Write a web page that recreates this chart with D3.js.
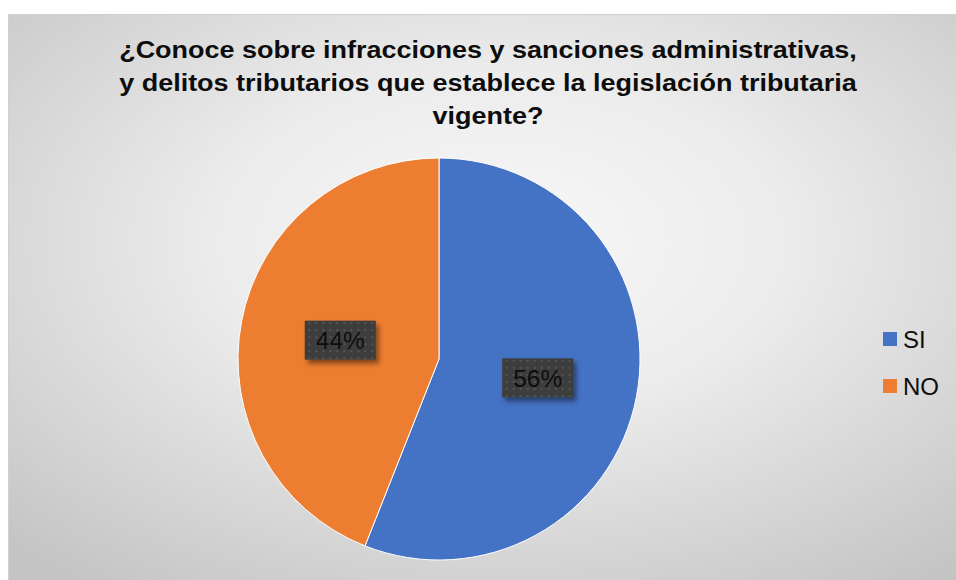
<!DOCTYPE html>
<html>
<head>
<meta charset="utf-8">
<script src="https://cdn.jsdelivr.net/npm/d3@7"></script>
<style>
  html, body { margin: 0; padding: 0; background: #ffffff; }
  svg { display: block; font-family: "Liberation Sans", Arial, sans-serif; }
</style>
</head>
<body>
<svg id="chart" width="956" height="580"></svg>
<script>
// Survey answers and their shares
const categories = ["SI", "NO"];
const values = [56, 44];
const colors = ["#4472C4", "#ED7D31"];
const titleLines = [
  "¿Conoce sobre infracciones y sanciones administrativas,",
  "y delitos tributarios que establece la legislación tributaria",
  "vigente?"
];

const svg = d3.select("#chart");
const W = 956, H = 580;
const defs = svg.append("defs");

// Chart area background: soft radial grey gradient
const grad = defs.append("radialGradient").attr("id", "bg")
  .attr("cx", "52%").attr("cy", "40%").attr("r", "75%");
grad.append("stop").attr("offset", "0%").attr("stop-color", "#f8f8f8");
grad.append("stop").attr("offset", "40%").attr("stop-color", "#ececec");
grad.append("stop").attr("offset", "100%").attr("stop-color", "#c4c4c4");

// Dotted dark fill for the data labels
const pat = defs.append("pattern").attr("id", "dots")
  .attr("width", 7).attr("height", 7).attr("patternUnits", "userSpaceOnUse");
pat.append("rect").attr("width", 7).attr("height", 7).attr("fill", "#3d3d3d");
pat.append("rect").attr("x", 3).attr("y", 3).attr("width", 2).attr("height", 2).attr("fill", "#555555");

const shadow = defs.append("filter").attr("id", "shadow")
  .attr("x", "-20%").attr("y", "-20%").attr("width", "150%").attr("height", "160%");
shadow.append("feDropShadow").attr("dx", 3).attr("dy", 4).attr("stdDeviation", 2.5)
  .attr("flood-color", "#000").attr("flood-opacity", 0.45);

// Chart area
svg.append("rect")
  .attr("x", 8.5).attr("y", 14.5).attr("width", W - 8).attr("height", H - 14)
  .attr("fill", "url(#bg)").attr("stroke", "#d0d0d0").attr("stroke-width", 1);

// Title, widened slightly to the chart's title style
const titleG = svg.append("g");
const tl = titleG.selectAll("text").data(titleLines).join("text")
  .attr("x", 0).attr("y", (d, i) => 58 + i * 33)
  .attr("text-anchor", "middle")
  .attr("font-size", 24.5).attr("font-weight", "bold").attr("fill", "#0d0d0d")
  .text(d => d);
const w0 = tl.node().getComputedTextLength();
const sx = 738 / w0;
titleG.attr("transform", `translate(488,0) scale(${sx},1)`);

// Pie
const cx = 439, cy = 359, R = 201;
const pie = d3.pie().sort(null).value(d => d.value);
const arcs = pie(categories.map((c, i) => ({ cat: c, value: values[i], color: colors[i] })));
const arc = d3.arc().innerRadius(0).outerRadius(R);

const g = svg.append("g").attr("transform", `translate(${cx},${cy})`);
g.selectAll("path").data(arcs).join("path")
  .attr("d", arc)
  .attr("fill", d => d.data.color)
  .attr("stroke", "#ffffff").attr("stroke-width", 1);

// Data labels
const total = d3.sum(values);
const labelArc = d3.arc().innerRadius(R * 0.5).outerRadius(R * 0.5);
const bw = 71, bh = 39;
const lab = g.selectAll("g.lab").data(arcs).join("g").attr("class", "lab")
  .attr("transform", d => {
    const [x, y] = labelArc.centroid(d);
    return `translate(${x},${y})`;
  });
lab.append("rect")
  .attr("x", -bw / 2).attr("y", -bh / 2).attr("width", bw).attr("height", bh)
  .attr("fill", "url(#dots)").attr("filter", "url(#shadow)");
lab.append("text")
  .attr("text-anchor", "middle").attr("dy", "0.36em")
  .attr("font-size", 24.5).attr("fill", "#0d0d0d")
  .text(d => Math.round(d.data.value / total * 100) + "%");

// Legend
const leg = svg.append("g").attr("transform", "translate(883,332)");
const items = leg.selectAll("g").data(categories).join("g")
  .attr("transform", (d, i) => `translate(0,${i * 47})`);
items.append("rect").attr("width", 14).attr("height", 14)
  .attr("fill", (d, i) => colors[i]);
items.append("text").attr("x", 20).attr("y", 7).attr("dy", "0.36em")
  .attr("font-size", 24).attr("fill", "#0d0d0d").text(d => d);
</script>
</body>
</html>
